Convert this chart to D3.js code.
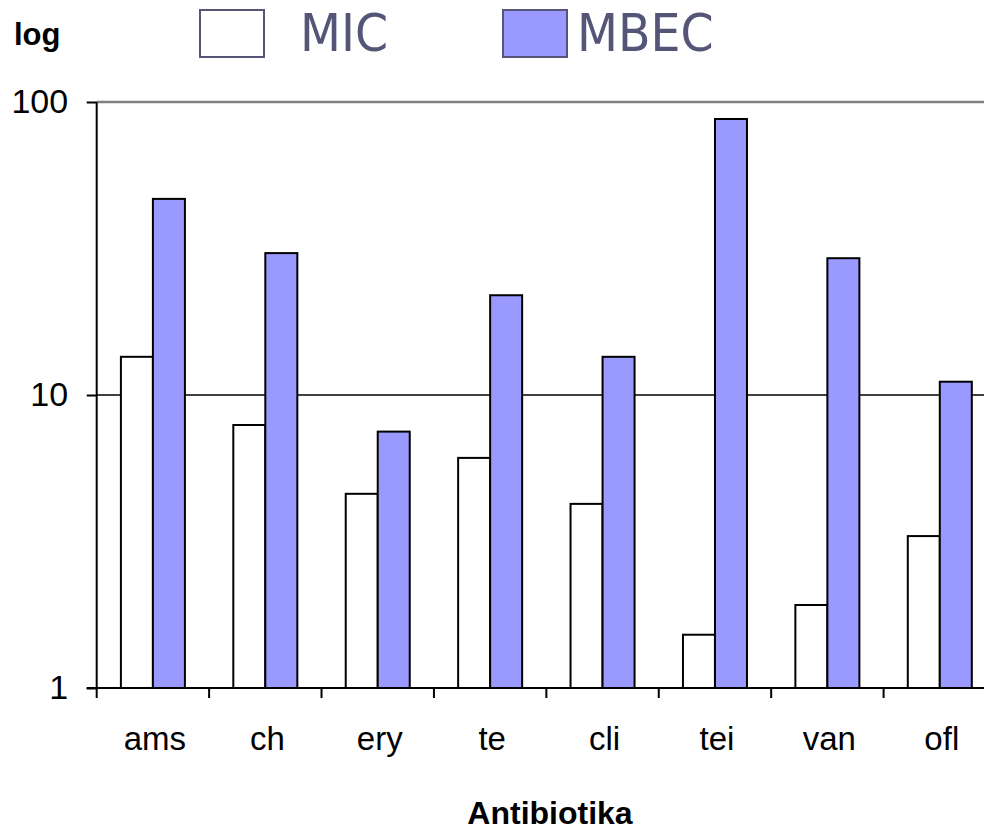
<!DOCTYPE html>
<html>
<head>
<meta charset="utf-8">
<script src="https://cdn.jsdelivr.net/npm/d3@7"></script>
<style>
  html, body { margin: 0; padding: 0; background: #fff; }
  svg { display: block; }
</style>
</head>
<body>
<svg id="chart" width="984" height="832"></svg>
<script>
const categories = ["ams", "ch", "ery", "te", "cli", "tei", "van", "ofl"];
const seriesNames = ["MIC", "MBEC"];
const micValues = [13.5, 7.9, 4.6, 6.1, 4.25, 1.52, 1.92, 3.3];
const mbecValues = [46.7, 30.5, 7.5, 21.9, 13.5, 87.5, 29.3, 11.1];
const yTickValues = [1, 10, 100];
const yTickLabels = ["1", "10", "100"];
const seriesColors = ["#ffffff", "#9999ff"];

(function () {
const svg = d3.select("#chart");
const mLeft = 96.7, mRight = 996, mTop = 102, mBottom = 688;

const x = d3.scaleBand().domain(categories).range([mLeft, mRight]).padding(0);
const x1 = d3.scaleBand().domain(seriesNames).range([24.2, x.bandwidth() - 24.2]).padding(0);
const y = d3.scaleLog().domain([1, 100]).range([mBottom, mTop]);

// gridlines
svg.append("g").selectAll("line").data([10, 100]).join("line")
  .attr("x1", mLeft).attr("x2", 984)
  .attr("y1", d => y(d)).attr("y2", d => y(d))
  .attr("stroke", d => d === 100 ? "#808080" : "#000")
  .attr("stroke-width", d => d === 100 ? 2.5 : 1.6);

// bars
const data = categories.map((c, i) => ({ cat: c, vals: [micValues[i], mbecValues[i]] }));
const groups = svg.append("g").selectAll("g").data(data).join("g")
  .attr("transform", d => `translate(${x(d.cat)},0)`);
groups.selectAll("rect").data(d => d.vals.map((v, j) => ({ s: seriesNames[j], v, j })))
  .join("rect")
  .attr("x", d => x1(d.s))
  .attr("width", x1.bandwidth())
  .attr("y", d => y(d.v))
  .attr("height", d => mBottom - y(d.v))
  .attr("fill", d => seriesColors[d.j])
  .attr("stroke", "#000")
  .attr("stroke-width", 2);

// y axis
const yAxis = d3.axisLeft(y).tickValues(yTickValues)
  .tickFormat((d, i) => yTickLabels[i]).tickSize(10).tickPadding(18.5);
const gy = svg.append("g").attr("transform", `translate(${mLeft},0)`).call(yAxis);
gy.select(".domain").attr("stroke", "#000").attr("stroke-width", 2).attr("d", `M0,${mTop}V${mBottom}`);
gy.selectAll(".tick line").attr("stroke", "#000").attr("stroke-width", 2);
gy.selectAll(".tick text").attr("font-family", "Liberation Sans, Arial, sans-serif")
  .attr("font-size", 34).attr("fill", "#000").attr("dy", "0.32em");

// x axis
const gx = svg.append("g").attr("transform", `translate(0,${mBottom})`);
gx.append("line").attr("x1", mLeft - 10).attr("x2", 984).attr("y1", 0).attr("y2", 0)
  .attr("stroke", "#000").attr("stroke-width", 2);
gx.selectAll("line.tk").data(categories).join("line").attr("class", "tk")
  .attr("x1", d => x(d)).attr("x2", d => x(d)).attr("y1", 0).attr("y2", 10)
  .attr("stroke", "#000").attr("stroke-width", 2);
gx.selectAll("text").data(categories).join("text")
  .attr("x", d => x(d) + x.bandwidth() / 2 + 2)
  .attr("y", 62)
  .attr("text-anchor", "middle")
  .attr("font-family", "Liberation Sans, Arial, sans-serif")
  .attr("font-size", 33).attr("fill", "#000")
  .text(d => d);

// axis titles
svg.append("text").attr("x", 14).attr("y", 45)
  .attr("font-family", "Liberation Sans, Arial, sans-serif").attr("font-weight", "bold")
  .attr("font-size", 31).attr("fill", "#000").text("log");
svg.append("text").attr("x", 550).attr("y", 824).attr("text-anchor", "middle")
  .attr("font-family", "Liberation Sans, Arial, sans-serif").attr("font-weight", "bold")
  .attr("font-size", 32).attr("fill", "#000").text("Antibiotika");

// legend
const legendItems = [
  { name: seriesNames[0], color: seriesColors[0], bx: 200, tx: 300 },
  { name: seriesNames[1], color: seriesColors[1], bx: 503, tx: 577 }
];
const lg = svg.append("g").selectAll("g").data(legendItems).join("g");
lg.append("rect").attr("x", d => d.bx).attr("y", 10).attr("width", 64).attr("height", 47)
  .attr("fill", d => d.color).attr("stroke", "#555577").attr("stroke-width", 2);
lg.append("text")
  .attr("transform", d => `translate(${d.tx},51) scale(0.95,1.02)`)
  .attr("font-family", "DejaVu Sans, sans-serif")
  .attr("font-size", 50).attr("fill", "#555577").text(d => d.name);
})();
</script>
</body>
</html>
